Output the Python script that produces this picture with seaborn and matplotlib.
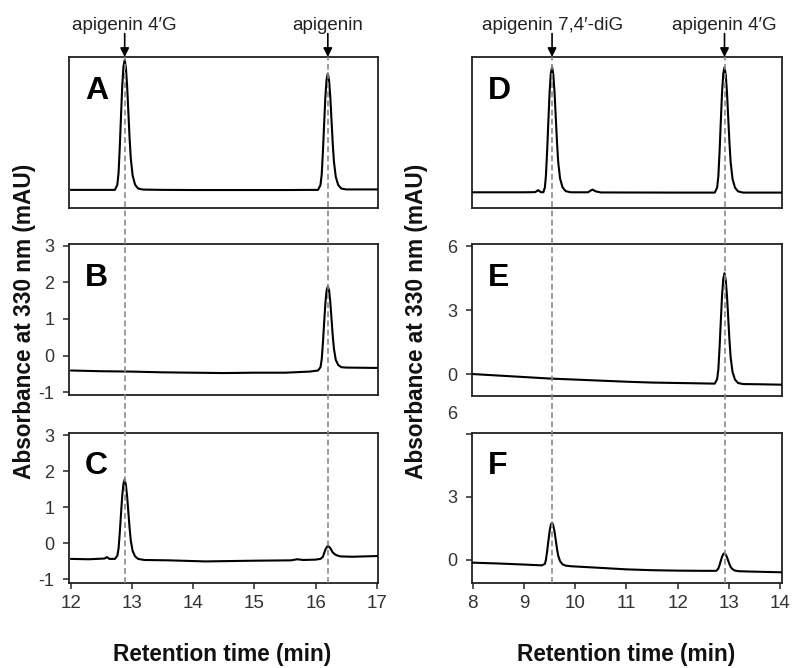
import numpy as np
import pandas as pd
import matplotlib
matplotlib.use("Agg")
import matplotlib.pyplot as plt
import matplotlib.transforms as mtransforms
from matplotlib.lines import Line2D
import seaborn as sns

# ---------------- data ----------------
# Left column: retention 12-17 min
peaks_left = [12.88, 16.20]
peak_labels_left = ["apigenin 4\u2032G", "apigenin"]
# Right column: retention 8-14 min
peaks_right = [9.55, 12.91]
peak_labels_right = ["apigenin 7,4\u2032-diG", "apigenin 4\u2032G"]

# Panel A (standards, arbitrary scale, no y axis)
tA = [12.0, 12.5, 12.72, 12.76, 12.78, 12.80, 12.82, 12.84, 12.86, 12.88, 12.90, 12.92, 12.94,
      12.96, 12.98, 13.01, 13.05, 13.10, 13.18, 13.5, 14.0, 15.0, 15.5, 16.0, 16.04,
      16.08, 16.10, 16.12, 16.14, 16.16, 16.18, 16.20, 16.22, 16.24, 16.26, 16.28, 16.30,
      16.33, 16.37, 16.42, 16.50, 17.02]
yA = [12.0, 12.0, 12.0, 15.4, 23.2, 40.4, 61.0, 80.8, 93.7, 98.0, 92.8, 80.8, 63.6,
      46.4, 32.6, 21.5, 15.4, 12.9, 12.2, 12.0, 11.9, 11.9, 11.9, 12.0, 12.0,
      15.2, 22.1, 37.5, 56.0, 73.7, 85.3, 89.1, 84.5, 73.7, 58.3, 42.9, 30.6,
      20.6, 15.2, 12.9, 12.3, 12.3]

# Panel B
tB = [12.0, 12.5, 13.0, 13.5, 14.0, 14.5, 15.0, 15.5, 15.9, 16.04, 16.08, 16.10, 16.12, 16.14,
      16.16, 16.18, 16.20, 16.22, 16.24, 16.26, 16.28, 16.30, 16.33, 16.37, 16.42, 16.50, 17.02]
yB = [-0.41, -0.43, -0.44, -0.46, -0.47, -0.48, -0.47, -0.47, -0.44, -0.41, -0.32, -0.11, 0.35, 0.90,
      1.43, 1.78, 1.89, 1.79, 1.47, 1.01, 0.55, 0.18, -0.12, -0.26, -0.32, -0.33, -0.34]

# Panel C
tC = [12.0, 12.3, 12.55, 12.59, 12.63, 12.72, 12.76, 12.78, 12.80, 12.82, 12.84, 12.86, 12.88,
      12.90, 12.92, 12.94, 12.96, 12.98, 13.01, 13.05, 13.10, 13.2, 13.6, 14.2, 15.0, 15.6, 15.7,
      15.8, 16.0, 16.08, 16.12, 16.16, 16.20, 16.24, 16.28, 16.33, 16.40, 16.6, 17.02]
yC = [-0.44, -0.45, -0.43, -0.39, -0.44, -0.44, -0.35, -0.15, 0.29, 0.81, 1.32, 1.65, 1.77,
      1.61, 1.30, 0.86, 0.42, 0.07, -0.22, -0.37, -0.44, -0.47, -0.48, -0.51, -0.49, -0.48, -0.45,
      -0.47, -0.46, -0.44, -0.38, -0.18, -0.07, -0.14, -0.26, -0.33, -0.37, -0.38, -0.36]

# Panel D (standards, arbitrary scale, no y axis)
tD = [8.0, 9.0, 9.22, 9.28, 9.33, 9.38, 9.41, 9.43, 9.454, 9.478, 9.502, 9.526, 9.55, 9.574,
      9.598, 9.622, 9.646, 9.67, 9.706, 9.754, 9.814, 9.91, 10.25, 10.30, 10.34, 10.40, 10.5,
      12.0, 12.72, 12.766, 12.79, 12.814, 12.838, 12.862, 12.886, 12.91, 12.934, 12.958,
      12.982, 13.006, 13.03, 13.066, 13.114, 13.174, 13.27, 14.03]
yD = [10.4, 10.4, 10.5, 11.8, 10.5, 10.4, 13.7, 21.2, 37.8, 57.7, 76.8, 89.3, 93.4, 88.4,
      76.8, 60.2, 43.6, 30.3, 19.5, 13.7, 11.2, 10.4, 10.4, 11.5, 12.2, 11.0, 10.3,
      10.2, 10.2, 13.5, 21.0, 37.6, 57.5, 76.6, 89.1, 93.2, 88.2, 76.6,
      60.0, 43.4, 30.1, 19.3, 13.5, 11.0, 10.2, 10.2]

# Panel E
tE = [8.0, 8.5, 9.0, 9.5, 10.0, 10.5, 11.0, 11.5, 12.0, 12.5, 12.72, 12.766, 12.79, 12.814,
      12.838, 12.862, 12.886, 12.91, 12.934, 12.958, 12.982, 13.006, 13.03, 13.066, 13.114,
      13.174, 13.27, 13.6, 14.03]
yE = [0.0, -0.07, -0.14, -0.21, -0.26, -0.31, -0.36, -0.40, -0.42, -0.44, -0.45, -0.24, 0.22, 1.26,
      2.50, 3.69, 4.47, 4.73, 4.40, 3.67, 2.64, 1.60, 0.77, 0.10, -0.26,
      -0.42, -0.47, -0.48, -0.50]

# Panel F
tF = [8.0, 8.5, 9.0, 9.35, 9.41, 9.43, 9.454, 9.478, 9.502, 9.526, 9.55, 9.574, 9.598, 9.622,
      9.646, 9.67, 9.706, 9.754, 9.814, 9.91, 10.5, 11.0, 11.5, 12.0, 12.5, 12.75, 12.79, 12.814,
      12.838, 12.862, 12.886, 12.91, 12.934, 12.958, 12.982, 13.006, 13.03, 13.066, 13.114,
      13.2, 13.5, 14.03]
yF = [-0.13, -0.17, -0.22, -0.26, -0.19, 0.0, 0.41, 0.90, 1.37, 1.68, 1.78, 1.64, 1.35, 0.94,
      0.53, 0.20, -0.06, -0.21, -0.27, -0.30, -0.38, -0.45, -0.49, -0.51, -0.52, -0.52, -0.41, -0.24,
      -0.04, 0.15, 0.28, 0.32, 0.25, 0.13, -0.04, -0.20, -0.34, -0.44, -0.51,
      -0.54, -0.56, -0.59]

panel_letters = ["A", "B", "C", "D", "E", "F"]
ticks_left_x = [12, 13, 14, 15, 16, 17]
ticks_right_x = [8, 9, 10, 11, 12, 13, 14]
ticks_BC = [-1, 0, 1, 2, 3]
ticks_EF = [0, 3, 6]

# ---------------- style ----------------
sns.set_style("white")
plt.rcParams["font.family"] = ["Liberation Sans", "DejaVu Sans"]
plt.rcParams["axes.linewidth"] = 1.2

W, H = 792, 668
fig = plt.figure(figsize=(W / 100, H / 100), dpi=100)


def add_ax(x0, y0, x1, y1):
    return fig.add_axes([x0 / W, 1 - y1 / H, (x1 - x0) / W, (y1 - y0) / H])


axA = add_ax(69, 57, 378, 208)
axB = add_ax(69, 244, 378, 395)
axC = add_ax(69, 433, 378, 583)
axD = add_ax(472, 57, 782, 208)
axE = add_ax(472, 244, 782, 396)
axF = add_ax(472, 433, 782, 583)

traces = [(axA, tA, yA), (axB, tB, yB), (axC, tC, yC),
          (axD, tD, yD), (axE, tE, yE), (axF, tF, yF)]
for ax, t, y in traces:
    df = pd.DataFrame({"t": t, "v": y})
    sns.lineplot(data=df, x="t", y="v", ax=ax, color="black", lw=1.5,
                 estimator=None, sort=False, zorder=3)
    ax.set_xlabel("")
    ax.set_ylabel("")
    for s in ax.spines.values():
        s.set_color("#222222")
        s.set_linewidth(1.3)

for ax in (axA, axB, axC):
    ax.set_xlim(11.97, 17.02)
for ax in (axD, axE, axF):
    ax.set_xlim(7.99, 14.03)

axA.set_ylim(0, 100)
axD.set_ylim(0, 100)
axB.set_ylim(-1.08, 3.05)
axC.set_ylim(-1.11, 3.06)
axE.set_ylim(-1.03, 6.1)
axF.set_ylim(-1.10, 6.05)

tick_col = "#333333"
for ax in (axA, axD):
    ax.set_xticks([])
    ax.set_yticks([])
for ax, yt in ((axB, ticks_BC), (axC, ticks_BC), (axE, ticks_EF), (axF, ticks_EF)):
    ax.set_yticks(yt)
    ax.set_yticklabels([str(v) for v in yt])
    ax.tick_params(axis="y", direction="out", length=4.5, width=1.1, pad=6,
                   labelsize=13, labelcolor=tick_col, left=True)
for ax in (axB, axE):
    ax.set_xticks([])
axC.set_xticks(ticks_left_x)
axC.set_xticklabels([str(v) for v in ticks_left_x])
axF.set_xticks(ticks_right_x)
axF.set_xticklabels([str(v) for v in ticks_right_x])
for ax in (axC, axF):
    ax.tick_params(axis="x", direction="out", length=4, width=1.1, pad=5,
                   labelsize=13.5, labelcolor=tick_col, bottom=True)

# misplaced "6" label in panel F (drawn above the axes in the reference)
for lab in axF.get_yticklabels():
    if lab.get_text() == "6":
        lab.set_transform(lab.get_transform() +
                          mtransforms.ScaledTranslation(0, 22 / 100, fig.dpi_scale_trans))

# panel letters
for ax, letter in zip((axA, axB, axC, axD, axE, axF), panel_letters):
    ax.text(0.052, 0.725, letter, transform=ax.transAxes, fontsize=23,
            fontweight="bold", ha="left", va="baseline", color="black")

# dashed guide lines through all panels of a column
for top_ax, bot_ax, peaks in ((axA, axC, peaks_left), (axD, axF, peaks_right)):
    tr = mtransforms.blended_transform_factory(bot_ax.transData, fig.transFigure)
    for p in peaks:
        fig.add_artist(Line2D([p, p], [1 - 583 / H, 1 - 57 / H], transform=tr,
                              color="#8a8a8a", lw=1.2, ls=(0, (3.5, 2)), zorder=5))

# labels with arrows above the top panels
for ax, peaks, labels in ((axA, peaks_left, peak_labels_left), (axD, peaks_right, peak_labels_right)):
    for p, lab in zip(peaks, labels):
        ax.annotate("", xy=(p, 1.0), xycoords=("data", "axes fraction"),
                    xytext=(p, 1.155), textcoords=("data", "axes fraction"),
                    arrowprops=dict(arrowstyle="-|>", color="black", lw=1.2,
                                    mutation_scale=13, shrinkA=0, shrinkB=0),
                    annotation_clip=False)
        ax.text(p, 1.178, lab, transform=ax.get_xaxis_transform(), ha="center",
                va="baseline", fontsize=13.5, color="#222222", clip_on=False)

# axis titles
for xc in (25, 417):
    fig.text(xc / W, 1 - 321 / H, "Absorbance at 330 nm (mAU)", rotation=90,
             ha="center", va="center", fontsize=16.3, fontweight="bold", color="#111111")
for xc in (222, 626):
    fig.text(xc / W, 1 - 655 / H, "Retention time (min)", ha="center", va="center",
             fontsize=16.3, fontweight="bold", color="#111111")

fig.savefig("out.png", dpi=100)
